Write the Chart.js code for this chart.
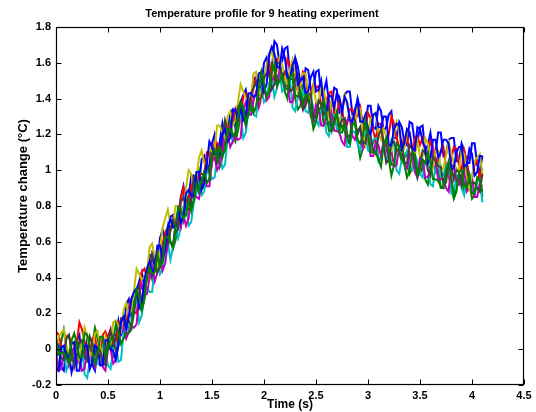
<!DOCTYPE html>
<html>
<head>
<meta charset="utf-8">
<script src="https://cdn.jsdelivr.net/npm/chart.js@4.4.1/dist/chart.umd.min.js"></script>
<style>
html,body{margin:0;padding:0;background:#fff;}
#wrap{width:536px;height:412px;}
</style>
</head>
<body>
<div id="wrap"><canvas id="c" width="536" height="412"></canvas></div>
<script>
const titleText = "Temperature profile for 9 heating experiment";
const xLabel = "Time (s)";
const yLabel = "Temperature change (\u00B0C)";

const times = [0,0.025,0.05,0.075,0.1,0.125,0.15,0.175,0.2,0.225,0.25,0.275,0.3,0.325,0.35,0.375,0.4,0.425,0.45,0.475,
0.5,0.525,0.55,0.575,0.6,0.625,0.65,0.675,0.7,0.725,0.75,0.775,0.8,0.825,0.85,0.875,0.9,0.925,0.95,0.975,
1,1.025,1.05,1.075,1.1,1.125,1.15,1.175,1.2,1.225,1.25,1.275,1.3,1.325,1.35,1.375,1.4,1.425,1.45,1.475,
1.5,1.525,1.55,1.575,1.6,1.625,1.65,1.675,1.7,1.725,1.75,1.775,1.8,1.825,1.85,1.875,1.9,1.925,1.95,1.975,
2,2.025,2.05,2.075,2.1,2.125,2.15,2.175,2.2,2.225,2.25,2.275,2.3,2.325,2.35,2.375,2.4,2.425,2.45,2.475,
2.5,2.525,2.55,2.575,2.6,2.625,2.65,2.675,2.7,2.725,2.75,2.775,2.8,2.825,2.85,2.875,2.9,2.925,2.95,2.975,
3,3.025,3.05,3.075,3.1,3.125,3.15,3.175,3.2,3.225,3.25,3.275,3.3,3.325,3.35,3.375,3.4,3.425,3.45,3.475,
3.5,3.525,3.55,3.575,3.6,3.625,3.65,3.675,3.7,3.725,3.75,3.775,3.8,3.825,3.85,3.875,3.9,3.925,3.95,3.975,
4,4.025,4.05,4.075,4.1];

const run1 = [0.03,0.03,-0.10,-0.12,0.00,-0.03,-0.13,-0.07,0.05,0.08,-0.06,-0.05,0.07,0.01,-0.09,-0.12,0.01,0.02,-0.07,-0.04,
0.07,0.11,0.01,0.07,0.16,0.08,0.11,0.25,0.28,0.18,0.21,0.33,0.38,0.43,0.35,0.39,0.53,0.51,0.46,0.48,
0.62,0.67,0.59,0.60,0.74,0.75,0.67,0.73,0.85,0.91,0.80,0.84,0.97,0.96,0.91,0.91,1.06,1.08,0.99,1.03,
1.15,1.20,1.10,1.16,1.26,1.17,1.20,1.32,1.34,1.24,1.28,1.38,1.42,1.45,1.35,1.39,1.52,1.50,1.45,1.47,
1.60,1.63,1.54,1.56,1.72,1.70,1.59,1.61,1.68,1.69,1.54,1.54,1.63,1.58,1.49,1.45,1.57,1.56,1.45,1.46,
1.55,1.56,1.42,1.44,1.50,1.37,1.36,1.46,1.45,1.32,1.33,1.42,1.44,1.44,1.31,1.31,1.40,1.34,1.26,1.25,
1.36,1.36,1.24,1.23,1.36,1.33,1.22,1.24,1.31,1.33,1.18,1.18,1.27,1.24,1.16,1.14,1.27,1.26,1.15,1.16,
1.24,1.25,1.11,1.14,1.21,1.10,1.10,1.21,1.21,1.08,1.09,1.17,1.18,1.18,1.05,1.05,1.15,1.11,1.04,1.04,
1.15,1.15,1.03,0.99,1.08];

const run2 = [-0.03,-0.03,0.04,0.11,0.01,-0.08,-0.06,0.02,0.05,-0.07,-0.02,0.01,-0.07,-0.06,0.03,0.12,0.06,-0.01,-0.04,-0.07,
0.03,0.05,-0.04,-0.05,0.09,0.13,0.11,0.17,0.10,0.14,0.27,0.27,0.25,0.21,0.28,0.42,0.44,0.39,0.48,0.51,
0.46,0.51,0.62,0.69,0.60,0.56,0.61,0.72,0.78,0.72,0.82,0.86,0.79,0.83,0.95,1.00,0.91,0.90,0.93,0.95,
1.08,1.14,1.10,1.02,1.07,1.18,1.23,1.27,1.19,1.16,1.22,1.30,1.35,1.30,1.37,1.41,1.33,1.34,1.48,1.50,
1.44,1.42,1.45,1.59,1.56,1.51,1.55,1.52,1.44,1.40,1.51,1.51,1.40,1.34,1.36,1.46,1.42,1.38,1.38,1.27,
1.28,1.38,1.37,1.25,1.26,1.27,1.22,1.32,1.29,1.22,1.25,1.22,1.16,1.15,1.25,1.27,1.16,1.07,1.12,1.20,
1.19,1.14,1.15,1.19,1.06,1.06,1.15,1.13,1.06,0.97,1.03,1.12,1.10,1.05,1.07,1.10,0.98,1.01,1.08,0.97,
0.98,1.02,0.95,0.92,1.02,1.04,0.99,1.01,0.90,0.90,1.00,0.97,0.91,0.84,0.88,0.98,0.96,0.88,0.93,0.93,
0.84,0.86,0.94,0.98,0.85];

const run3 = [0.10,0.08,0.02,-0.04,0.07,0.08,-0.01,-0.03,0.04,0.15,0.11,0.04,0.00,-0.03,0.06,0.07,-0.02,-0.04,0.08,0.10,
0.06,0.11,0.03,0.04,0.15,0.15,0.12,0.12,0.23,0.28,0.21,0.20,0.32,0.43,0.45,0.40,0.40,0.54,0.52,0.46,
0.49,0.59,0.65,0.58,0.67,0.73,0.69,0.73,0.84,0.90,0.81,0.84,0.91,0.84,0.88,0.98,0.98,0.97,1.10,1.10,
1.04,1.16,1.15,1.08,1.11,1.20,1.26,1.21,1.27,1.34,1.28,1.28,1.41,1.43,1.37,1.39,1.46,1.52,1.42,1.42,
1.51,1.58,1.61,1.49,1.53,1.62,1.60,1.52,1.51,1.62,1.58,1.54,1.53,1.44,1.47,1.55,1.53,1.41,1.43,1.48,
1.46,1.47,1.36,1.33,1.39,1.43,1.44,1.32,1.31,1.39,1.35,1.24,1.26,1.34,1.34,1.29,1.30,1.35,1.24,1.23,
1.32,1.29,1.22,1.16,1.26,1.26,1.16,1.14,1.20,1.30,1.26,1.18,1.13,1.10,1.18,1.19,1.09,1.07,1.18,1.19,
1.14,1.18,1.09,1.08,1.16,1.13,1.07,1.03,1.11,1.13,1.02,0.97,1.06,1.13,1.12,1.03,1.00,1.11,1.05,0.96,
0.96,1.03,1.05,0.95,1.01];

const run4 = [-0.09,-0.09,-0.01,0.01,-0.12,-0.08,0.00,-0.09,-0.06,0.03,0.02,-0.14,-0.16,-0.06,-0.02,0.01,-0.08,-0.09,0.01,-0.03,
-0.09,-0.11,0.00,0.03,-0.07,-0.06,0.10,0.14,0.10,0.14,0.24,0.28,0.15,0.19,0.32,0.34,0.32,0.32,0.47,0.50,
0.42,0.45,0.56,0.60,0.50,0.57,0.68,0.62,0.68,0.80,0.81,0.69,0.71,0.82,0.87,0.93,0.86,0.88,1.00,0.99,
0.95,0.96,1.08,1.11,1.01,1.03,1.18,1.21,1.16,1.20,1.29,1.32,1.18,1.21,1.33,1.34,1.31,1.30,1.44,1.46,
1.38,1.40,1.49,1.52,1.41,1.46,1.54,1.44,1.46,1.54,1.51,1.35,1.33,1.41,1.42,1.44,1.33,1.32,1.40,1.35,
1.28,1.25,1.34,1.34,1.21,1.19,1.31,1.31,1.23,1.23,1.29,1.29,1.13,1.13,1.22,1.21,1.15,1.11,1.22,1.22,
1.11,1.10,1.17,1.18,1.05,1.08,1.15,1.06,1.08,1.17,1.15,1.00,0.98,1.06,1.08,1.11,1.01,1.00,1.09,1.05,
0.98,0.96,1.05,1.05,0.92,0.91,1.03,1.04,0.96,0.97,1.03,1.03,0.87,0.87,0.97,0.96,0.90,0.86,0.98,0.98,
0.87,0.87,0.94,0.95,0.82];

const run5 = [-0.01,-0.12,-0.11,-0.03,-0.04,-0.09,0.00,-0.01,-0.08,-0.04,-0.12,-0.11,0.01,-0.02,-0.06,-0.10,-0.02,0.00,-0.10,-0.12,
0.00,0.00,-0.08,-0.06,0.03,0.16,0.12,0.06,0.10,0.13,0.12,0.14,0.31,0.36,0.30,0.31,0.40,0.46,0.38,0.43,
0.52,0.44,0.48,0.59,0.60,0.58,0.70,0.72,0.68,0.75,0.69,0.73,0.87,0.87,0.85,0.84,0.94,0.99,0.91,0.91,
1.05,1.07,1.00,1.03,1.11,1.24,1.20,1.13,1.16,1.19,1.17,1.18,1.34,1.38,1.31,1.31,1.39,1.44,1.35,1.40,
1.48,1.39,1.41,1.51,1.51,1.47,1.56,1.54,1.46,1.48,1.38,1.38,1.48,1.45,1.39,1.34,1.40,1.41,1.30,1.27,
1.37,1.35,1.25,1.25,1.30,1.39,1.32,1.22,1.22,1.21,1.16,1.14,1.28,1.29,1.19,1.17,1.22,1.24,1.12,1.14,
1.20,1.08,1.08,1.16,1.14,1.08,1.16,1.15,1.07,1.11,1.02,1.03,1.13,1.10,1.05,1.01,1.08,1.10,0.99,0.96,
1.07,1.06,0.96,0.96,1.01,1.11,1.04,0.95,0.95,0.95,0.90,0.88,1.02,1.03,0.94,0.92,0.97,1.00,0.88,0.90,
0.96,0.85,0.85,0.93,0.91];

const run6 = [-0.02,0.07,0.09,0.11,0.01,-0.02,0.05,0.02,-0.04,-0.06,0.04,0.12,0.07,-0.04,-0.01,0.09,0.10,0.01,-0.03,0.07,
0.00,0.03,0.15,0.16,0.13,0.10,0.22,0.26,0.19,0.22,0.33,0.45,0.42,0.39,0.40,0.43,0.57,0.59,0.50,0.46,
0.56,0.68,0.73,0.78,0.70,0.70,0.80,0.80,0.77,0.78,0.90,1.00,0.98,0.90,0.95,1.07,1.11,1.04,1.03,1.14,
1.09,1.12,1.25,1.25,1.21,1.18,1.30,1.33,1.25,1.28,1.38,1.48,1.44,1.40,1.40,1.41,1.54,1.55,1.45,1.40,
1.49,1.59,1.63,1.67,1.58,1.56,1.63,1.59,1.52,1.48,1.56,1.62,1.56,1.44,1.46,1.54,1.54,1.44,1.39,1.47,
1.38,1.38,1.47,1.44,1.37,1.30,1.39,1.39,1.28,1.27,1.34,1.42,1.36,1.29,1.26,1.25,1.36,1.34,1.21,1.14,
1.21,1.29,1.30,1.32,1.21,1.17,1.23,1.19,1.13,1.11,1.20,1.27,1.21,1.10,1.12,1.21,1.22,1.12,1.08,1.16,
1.08,1.08,1.18,1.15,1.08,1.02,1.11,1.11,1.01,1.01,1.08,1.16,1.10,1.04,1.01,1.00,1.11,1.09,0.97,0.90,
0.97,1.05,1.07,1.09,0.98];

const run7 = [0.02,-0.01,-0.05,-0.06,0.06,0.08,-0.02,-0.10,-0.04,0.05,0.05,-0.04,-0.06,0.07,0.03,-0.03,0.01,-0.01,-0.07,-0.09,
0.05,0.10,0.05,-0.01,0.02,0.17,0.18,0.15,0.16,0.12,0.20,0.33,0.35,0.26,0.30,0.41,0.45,0.53,0.49,0.43,
0.46,0.56,0.63,0.59,0.66,0.72,0.65,0.67,0.82,0.85,0.79,0.78,0.82,0.97,0.96,0.88,0.90,0.99,1.04,0.98,
1.07,1.11,1.04,1.08,1.19,1.28,1.22,1.19,1.19,1.21,1.35,1.38,1.31,1.25,1.33,1.43,1.46,1.49,1.39,1.41,
1.52,1.54,1.53,1.45,1.48,1.60,1.60,1.51,1.55,1.54,1.44,1.45,1.51,1.54,1.41,1.34,1.36,1.42,1.43,1.29,
1.30,1.39,1.37,1.31,1.33,1.35,1.23,1.26,1.32,1.24,1.28,1.29,1.20,1.18,1.29,1.28,1.20,1.24,1.16,1.15,
1.24,1.19,1.11,1.09,1.19,1.23,1.15,1.04,1.06,1.15,1.16,1.11,1.12,1.16,1.04,1.04,1.14,1.12,1.05,0.96,
1.02,1.11,1.10,1.00,0.97,1.08,1.05,1.02,1.02,0.92,0.93,1.03,1.03,0.95,1.00,0.99,0.92,1.03,1.02,0.93,
0.93,0.93,0.90,0.88,0.98];

const run8 = [-0.10,-0.12,0.01,0.02,-0.05,-0.04,0.03,0.04,-0.12,-0.12,-0.02,0.02,0.02,-0.11,-0.07,0.02,0.00,-0.09,-0.09,0.05,
0.05,0.00,-0.01,-0.06,0.02,0.15,0.18,0.11,0.18,0.28,0.32,0.34,0.23,0.26,0.39,0.45,0.49,0.42,0.46,0.58,
0.58,0.50,0.55,0.68,0.73,0.68,0.69,0.78,0.71,0.74,0.87,0.89,0.86,0.85,0.99,0.99,0.89,0.93,1.04,1.16,
1.13,1.09,1.09,1.09,1.20,1.23,1.16,1.18,1.33,1.34,1.28,1.34,1.28,1.31,1.43,1.43,1.41,1.42,1.54,1.55,
1.44,1.48,1.65,1.69,1.65,1.58,1.57,1.68,1.63,1.52,1.51,1.59,1.62,1.48,1.50,1.52,1.43,1.44,1.52,1.55,
1.44,1.45,1.50,1.36,1.33,1.42,1.41,1.35,1.43,1.41,1.32,1.41,1.38,1.28,1.27,1.34,1.39,1.27,1.27,1.31,
1.22,1.20,1.31,1.32,1.24,1.24,1.30,1.30,1.14,1.14,1.23,1.26,1.25,1.12,1.15,1.23,1.21,1.12,1.11,1.24,
1.23,1.16,1.12,1.04,1.07,1.17,1.17,1.07,1.10,1.17,1.17,1.15,1.01,1.01,1.10,1.13,1.13,1.02,1.03,1.12,
1.09,0.97,0.99,1.08,1.08];

const run9 = [0.06,-0.03,-0.02,-0.02,-0.05,-0.08,0.05,0.09,0.03,-0.05,-0.04,0.09,0.08,0.02,-0.01,-0.08,-0.03,0.07,0.07,-0.04,
0.00,0.06,0.05,0.14,0.10,0.03,0.06,0.09,0.09,0.11,0.25,0.33,0.29,0.22,0.28,0.41,0.46,0.42,0.43,0.53,
0.46,0.49,0.62,0.63,0.60,0.57,0.70,0.79,0.78,0.73,0.75,0.83,0.77,0.83,0.92,0.88,0.95,0.99,0.93,0.95,
1.10,1.11,1.06,1.13,1.08,1.11,1.23,1.23,1.20,1.19,1.29,1.38,1.35,1.26,1.31,1.36,1.32,1.36,1.46,1.55,
1.48,1.41,1.44,1.54,1.59,1.47,1.50,1.53,1.46,1.45,1.52,1.54,1.42,1.41,1.44,1.37,1.42,1.42,1.32,1.23,
1.27,1.34,1.35,1.39,1.31,1.22,1.22,1.28,1.32,1.21,1.21,1.26,1.18,1.15,1.26,1.26,1.17,1.15,1.19,1.28,
1.20,1.10,1.10,1.10,1.06,1.02,1.14,1.18,1.11,1.03,1.03,1.15,1.13,1.06,1.03,0.96,1.00,1.10,1.09,0.98,
1.01,1.06,1.04,1.10,1.04,0.95,0.95,0.94,0.91,0.90,1.00,1.05,0.97,0.86,0.89,0.99,1.00,0.92,0.90,0.97,
0.87,0.87,0.96,0.94,0.88];

const runs = [run1, run2, run3, run4, run5, run6, run7, run8, run9];
const runColors = ['#0000ff','#008000','#ff0000','#00bfbf','#bf00bf','#bfbf00','#404040','#0000ff','#008000'];

const FONT = "'Liberation Sans', Arial, Helvetica, sans-serif";
Chart.defaults.font.family = FONT;
Chart.defaults.color = '#000';

const boxTicks = {
  id: 'boxTicks',
  afterDatasetsDraw(chart) {
    const {ctx, chartArea: a, scales} = chart;
    const x = scales.x, y = scales.y;
    const L = Math.round(a.left) + 0.5, R = Math.round(a.right) - 0.5;
    const T = Math.round(a.top) + 0.5, B = Math.round(a.bottom) - 0.5;
    ctx.save();
    ctx.strokeStyle = '#000';
    ctx.lineWidth = 1;
    ctx.beginPath();
    x.ticks.forEach(t => {
      const px = Math.round(x.getPixelForValue(t.value)) + 0.5;
      ctx.moveTo(px, B); ctx.lineTo(px, B - 5);
      ctx.moveTo(px, T); ctx.lineTo(px, T + 5);
    });
    y.ticks.forEach(t => {
      const py = Math.round(y.getPixelForValue(t.value)) + 0.5;
      ctx.moveTo(L, py); ctx.lineTo(L + 5, py);
      ctx.moveTo(R, py); ctx.lineTo(R - 5, py);
    });
    ctx.stroke();
    ctx.lineWidth = 1.2;
    ctx.strokeRect(L, T, R - L, B - T);
    ctx.restore();
  },
  afterDraw(chart) {
    const {ctx} = chart;
    ctx.save();
    ctx.translate(23, 196);
    ctx.rotate(-Math.PI / 2);
    ctx.fillStyle = '#000';
    ctx.font = "bold 13px " + FONT;
    ctx.textAlign = 'center';
    ctx.textBaseline = 'middle';
    ctx.fillText(yLabel, 0, 0);
    ctx.restore();
  }
};

const fmt = v => String(parseFloat(Number(v).toFixed(1)));

new Chart(document.getElementById('c'), {
  type: 'line',
  data: {
    datasets: runs.map((r, k) => ({
      label: 'Run ' + (k + 1),
      data: r.map((v, i) => ({x: times[i], y: v})),
      borderColor: runColors[k],
      backgroundColor: runColors[k],
      borderWidth: 2,
      pointRadius: 0,
      tension: 0,
      fill: false,
      order: runs.length - k
    }))
  },
  options: {
    responsive: false,
    animation: false,
    devicePixelRatio: 1,
    layout: {padding: {left: 0, right: 12, top: 0, bottom: 0}},
    plugins: {
      legend: {display: false},
      tooltip: {enabled: false},
      title: {
        display: true,
        text: titleText,
        color: '#000',
        font: {size: 11, weight: 'bold', family: FONT},
        padding: {top: 7, bottom: 6.8}
      }
    },
    scales: {
      x: {
        type: 'linear',
        min: 0, max: 4.5,
        grid: {display: false, drawTicks: false, tickLength: 0},
        border: {display: false},
        ticks: {stepSize: 0.5, padding: 4, color: '#000', font: {size: 11, weight: 'bold'}, maxRotation: 0, callback: fmt},
        title: {display: true, text: xLabel, color: '#000', font: {size: 12, weight: 'bold'}, padding: {top: 0, bottom: 0}},
        afterFit(s) { s.height = 27; }
      },
      y: {
        type: 'linear',
        min: -0.2, max: 1.8,
        grid: {display: false, drawTicks: false, tickLength: 0},
        border: {display: false},
        ticks: {stepSize: 0.2, padding: 5, color: '#000', font: {size: 11, weight: 'bold'}, callback: fmt},
        title: {display: false, text: yLabel},
        afterFit(s) { s.width = 56; }
      }
    }
  },
  plugins: [boxTicks]
});
</script>
</body>
</html>
